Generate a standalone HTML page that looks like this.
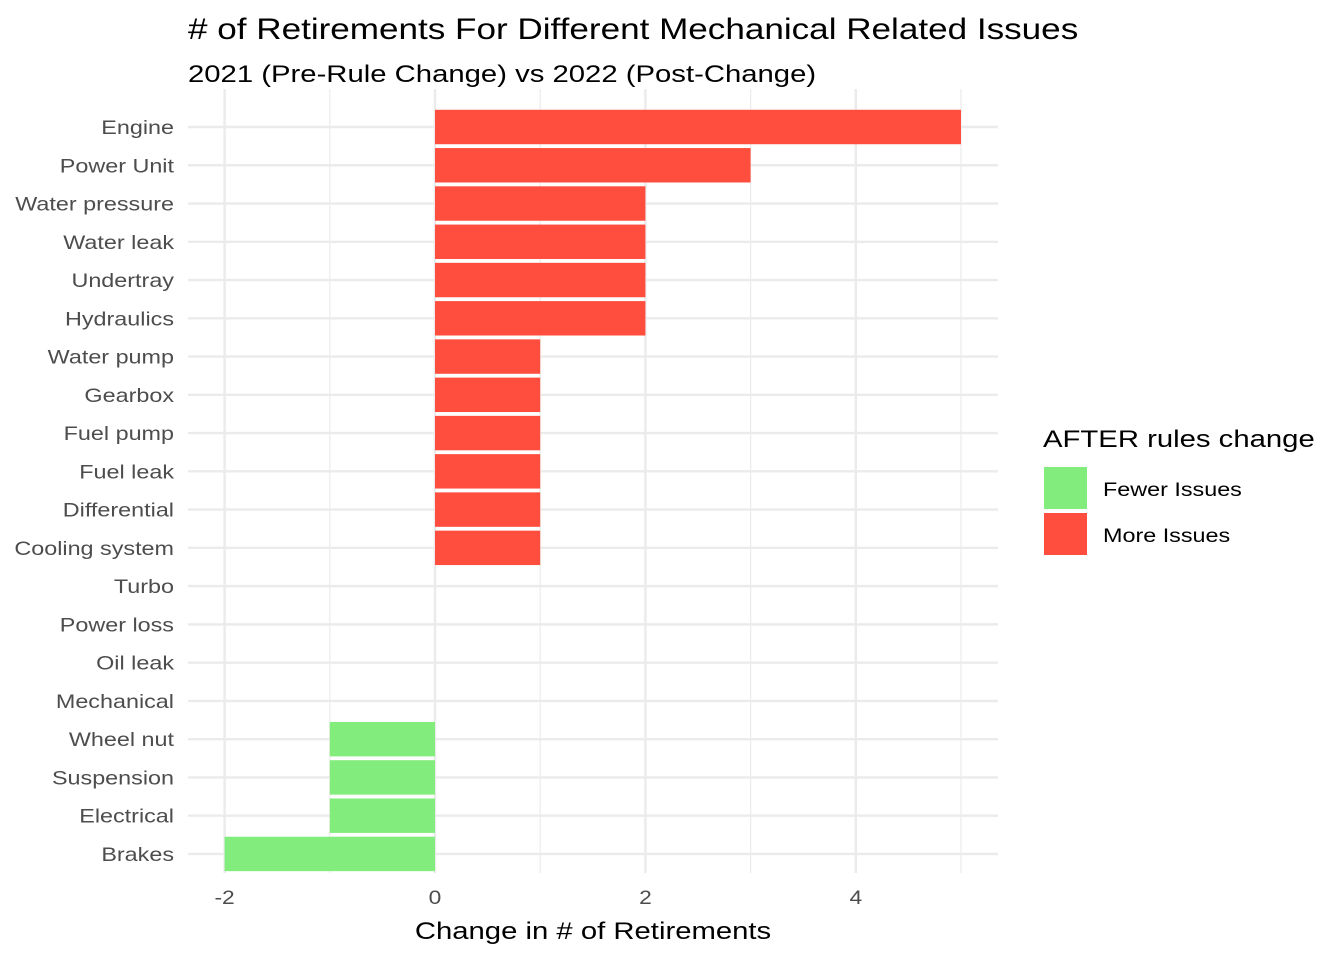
<!DOCTYPE html>
<html><head><meta charset="utf-8"><style>
body{margin:0;background:#fff;}
svg text{font-family:"Liberation Sans",Arial,sans-serif;}
</style></head><body>
<svg id="chart" width="1344" height="960" xmlns="http://www.w3.org/2000/svg">
<text transform="translate(188,39) scale(1.17,1)" font-size="30" fill="#000"># of Retirements For Different Mechanical Related Issues</text>
<text transform="translate(188,82) scale(1.22,1)" font-size="24" fill="#000">2021 (Pre-Rule Change) vs 2022 (Post-Change)</text>
<g id="grid"></g><g id="bars"></g><g id="ylabels"></g><g id="xlabels"></g>
<text transform="translate(593,939) scale(1.22,1)" font-size="24" text-anchor="middle" fill="#000">Change in # of Retirements</text>
<g>
<text transform="translate(1043,447) scale(1.22,1)" font-size="24" fill="#000">AFTER rules change</text>
<rect x="1044" y="467" width="43" height="42" fill="#82ec7c"/>
<text transform="translate(1103,496) scale(1.23,1)" font-size="19" fill="#000">Fewer Issues</text>
<rect x="1044" y="513" width="43" height="42" fill="#ff4e3e"/>
<text transform="translate(1103,542) scale(1.23,1)" font-size="19" fill="#000">More Issues</text>
</g>
</svg>
<script>
const categories=["Engine","Power Unit","Water pressure","Water leak","Undertray","Hydraulics","Water pump","Gearbox","Fuel pump","Fuel leak","Differential","Cooling system","Turbo","Power loss","Oil leak","Mechanical","Wheel nut","Suspension","Electrical","Brakes"];
const values=[5,3,2,2,2,2,1,1,1,1,1,1,0,0,0,0,-1,-1,-1,-2];
const majorTicks=[-2,0,2,4];
const minorTicks=[-1,1,3,5];
const NS="http://www.w3.org/2000/svg";
const x=v=>435+v*105.2;
const y=i=>127+i*38.26;
const px0=188,px1=998,py0=89,py1=873;
function mk(t,a,p){const e=document.createElementNS(NS,t);for(const k in a)e.setAttribute(k,a[k]);p.appendChild(e);return e;}
const grid=document.getElementById('grid');
minorTicks.forEach(t=>{const l=mk('line',{x1:x(t),x2:x(t),y1:py0,y2:py1,stroke:'#ebebeb','stroke-width':1.2},grid);

});
majorTicks.forEach(t=>{const l=mk('line',{x1:x(t),x2:x(t),y1:py0,y2:py1,stroke:'#ebebeb','stroke-width':2.4},grid);

});
categories.forEach((c,i)=>{const l=mk('line',{x1:px0,x2:px1,y1:y(i),y2:y(i),stroke:'#ebebeb','stroke-width':2.4},grid);

});
const bars=document.getElementById('bars'),yl=document.getElementById('ylabels'),xl=document.getElementById('xlabels');
const bh=38.26*0.9;
categories.forEach((c,i)=>{const v=values[i];
if(v!==0){const r=mk('rect',{x:Math.min(x(0),x(v)),y:y(i)-bh/2,width:Math.abs(x(v)-x(0)),height:bh,fill:v>0?'#ff4e3e':'#82ec7c'},bars);

}
const t=mk('text',{transform:'translate(174,'+(y(i)+7)+') scale(1.23,1)','font-size':19,'text-anchor':'end',fill:'#4d4d4d'},yl);t.textContent=c;

});
majorTicks.forEach(v=>{const t=mk('text',{transform:'translate('+x(v)+',904) scale(1.2,1)','font-size':19,'text-anchor':'middle',fill:'#4d4d4d'},xl);t.textContent=v;

});
</script>
</body></html>
